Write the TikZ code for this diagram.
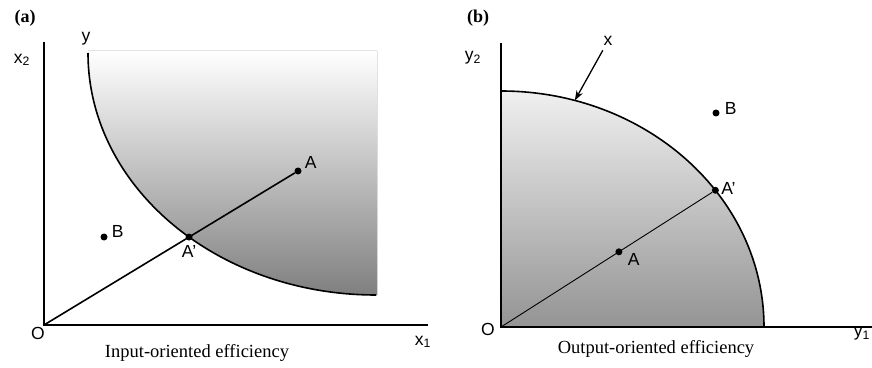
\documentclass[tikz,border=0pt]{standalone}
\usepackage{fontspec}
\setmainfont{Liberation Serif}
\setsansfont{Liberation Sans}
\usetikzlibrary{arrows.meta,positioning,calc}
\tikzset{
  axis/.style     ={line width=1.3pt},
  frontier/.style ={line width=1.6pt},
  ray/.style      ={line width=1.6pt},
  thinray/.style  ={line width=0.9pt},
  dot/.style      ={circle,fill=black,minimum size=7pt,inner sep=0pt},
  lab/.style      ={font=\sffamily\fontsize{17.5}{19}\selectfont,inner sep=1pt},
  capt/.style     ={font=\fontsize{18.5}{20}\selectfont,inner sep=1pt},
  panel/.style    ={font=\bfseries\fontsize{18}{20}\selectfont,inner sep=1pt},
  pointer/.style  ={line width=1.3pt,-{Stealth[length=10pt,width=7pt]}},
}

\begin{document}
\begin{tikzpicture}[x=1pt,y=1pt]
  \useasboundingbox (0,0) rectangle (872,367);
  % (a) input-oriented
  \coordinate (Oa) at (44,42);
  \coordinate (Ya) at (44,325);
  \coordinate (Xa) at (428,42);
  \fill[top color=white,bottom color=black!50]
     (88,314) arc[start angle=180,end angle=270,x radius=288,y radius=242]
     -- (377,72) -- (377,316) -- (88,316) -- cycle;
  \draw[frontier] (88,314) arc[start angle=180,end angle=270,x radius=288,y radius=242];
  \draw[axis] (Ya) -- (Oa) -- (Xa);
  \node[dot] (Aa) at (298,196) {};
  \node[dot] (Apa) at ($(Oa)!0.571!(Aa)$) {};
  \node[dot] (Ba) at (104,130) {};
  \draw[ray] (Oa) -- (Aa);
  \node[lab,right=2pt of Aa,yshift=9pt] (labAa) {A};
  \node[lab,below=3pt of Apa] (labApa) {A'};
  \node[lab,right=3pt of Ba,yshift=6pt] (labBa) {B};
  \node[lab] (labya) at (86,328) {y};
  \node[lab] (labx2) at (22,307) {x\textsubscript{2}};
  \node[lab] (labx1) at (423,25) {x\textsubscript{1}};
  \node[lab] (labOa) at (38,34) {O};
  \node[panel] (pa) at (25,349) {(a)};
  \node[capt] (capa) at (197,14) {Input-oriented efficiency};
  % (b) output-oriented
  \coordinate (Ob) at (501,40);
  \coordinate (Yb) at (501,324);
  \coordinate (Xb) at (872,40);
  \fill[top color=black!6,bottom color=black!42]
     (Ob) -- (501,276) arc[start angle=90,end angle=0,x radius=263,y radius=236] -- cycle;
  \draw[frontier] (501,276) arc[start angle=90,end angle=0,x radius=263,y radius=236];
  \draw[axis] (Yb) -- (Ob) -- (Xb);
  \node[dot] (Apb) at ($(Ob)+(35.4:263 and 236)$) {};
  \node[dot] (Ab) at ($(Ob)!0.55!(Apb)$) {};
  \node[dot] (Bb) at (716,254) {};
  \draw[thinray] (Ob) -- (Apb);
  \node[lab,right=4pt of Ab,yshift=-8pt] (labAb) {A};
  \node[lab,right=1pt of Apb,yshift=2pt] (labApb) {A'};
  \node[lab,right=4pt of Bb,yshift=5pt] (labBb) {B};
  \node[lab] (labxb) at (608,326) {x};
  \coordinate (tipx) at ($(Ob)+(73.7:263 and 236)$);
  \draw[pointer,shorten <=4pt] (labxb) -- (tipx);
  \node[lab] (laby2) at (473,309) {y\textsubscript{2}};
  \node[lab] (laby1) at (862,33) {y\textsubscript{1}};
  \node[lab] (labOb) at (488,38) {O};
  \node[panel] (pb) at (478,349) {(b)};
  \node[capt] (capb) at (656,18) {Output-oriented efficiency};
\end{tikzpicture}
\end{document}
